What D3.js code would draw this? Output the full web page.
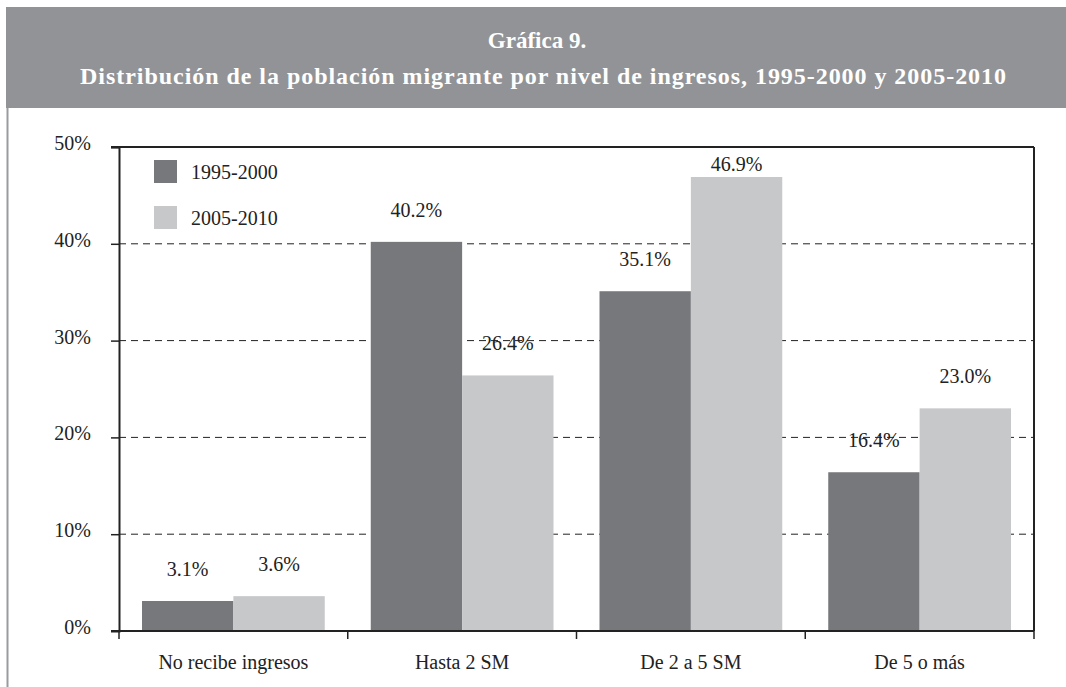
<!DOCTYPE html>
<html>
<head>
<meta charset="utf-8">
<script src="https://cdn.jsdelivr.net/npm/d3@7"></script>
<style>
    body { margin: 0; background: #fff; }
</style>
</head>
<body>
<svg id="chart" width="1066" height="687"></svg>
<script>
var categories = ["No recibe ingresos", "Hasta 2 SM", "De 2 a 5 SM", "De 5 o más"];
var seriesNames = ["1995-2000", "2005-2010"];
var values1995 = [3.1, 40.2, 35.1, 16.4];
var values2005 = [3.6, 26.4, 46.9, 23.0];
var yTicks = [0, 10, 20, 30, 40, 50];

var colors = ["#77787b", "#c7c8ca"];
var FONT = "'Liberation Serif', 'DejaVu Serif', 'Times New Roman', serif";

var svg = d3.select("#chart").attr("font-family", FONT),
    margin = {top: 147, right: 32, bottom: 56, left: 119},
    width = 1066 - margin.left - margin.right,
    height = 687 - margin.top - margin.bottom;

// banner
svg.append("rect")
    .attr("x", 6).attr("y", 7)
    .attr("width", 1060).attr("height", 101)
    .attr("fill", "#929396");
svg.append("line")
    .attr("x1", 7.5).attr("x2", 7.5)
    .attr("y1", 108).attr("y2", 687)
    .attr("stroke", "#9a9b9e").attr("stroke-width", 2);

svg.append("text")
    .attr("x", 537).attr("y", 48)
    .attr("text-anchor", "middle")
    .attr("fill", "#fff").attr("font-weight", "bold")
    .attr("font-size", 23)
    .text("Gráfica 9.");
svg.append("text")
    .attr("x", 543).attr("y", 84)
    .attr("text-anchor", "middle")
    .attr("fill", "#fff").attr("font-weight", "bold")
    .attr("font-size", 24)
    .attr("textLength", 926).attr("lengthAdjust", "spacing")
    .text("Distribución de la población migrante por nivel de ingresos, 1995-2000 y 2005-2010");

var g = svg.append("g").attr("transform", "translate(" + margin.left + "," + margin.top + ")");

var x0 = d3.scaleBand().domain(categories).range([0, width]).paddingInner(0).paddingOuter(0);
var x1 = d3.scaleBand().domain(seriesNames).range([23, x0.bandwidth() - 23]);
var y = d3.scaleLinear().domain([0, 50]).range([height, 0]);

// dashed grid
g.selectAll(".grid")
    .data(yTicks.filter(function (d) { return d > 0 && d < 50; }))
    .enter().append("line")
    .attr("x1", 0).attr("x2", width)
    .attr("y1", function (d) { return y(d); })
    .attr("y2", function (d) { return y(d); })
    .attr("stroke", "#222").attr("stroke-width", 1)
    .attr("stroke-dasharray", "7,5");

var data = categories.map(function (c, i) {
    return {cat: c, vals: [values1995[i], values2005[i]]};
});

var groups = g.selectAll(".grp")
    .data(data)
    .enter().append("g")
    .attr("transform", function (d) { return "translate(" + x0(d.cat) + ",0)"; });

groups.selectAll("rect")
    .data(function (d) { return d.vals.map(function (v, j) { return {s: seriesNames[j], v: v, j: j}; }); })
    .enter().append("rect")
    .attr("x", function (d) { return x1(d.s); })
    .attr("width", x1.bandwidth())
    .attr("y", function (d) { return y(d.v); })
    .attr("height", function (d) { return height - y(d.v); })
    .attr("fill", function (d) { return colors[d.j]; });

// value labels; a label that would hit the top frame sits just above its bar
groups.selectAll(".lbl")
    .data(function (d) { return d.vals.map(function (v, j) { return {s: seriesNames[j], v: v}; }); })
    .enter().append("text")
    .attr("x", function (d) { return x1(d.s) + x1.bandwidth() / 2; })
    .attr("y", function (d) {
        var yy = y(d.v) - 25;
        return yy < 20 ? y(d.v) - 6 : yy;
    })
    .attr("text-anchor", "middle")
    .attr("fill", "#222")
    .attr("font-size", 20)
    .text(function (d) { return d.v.toFixed(1) + "%"; });

// frame
g.append("line").attr("x1", -8).attr("x2", width).attr("y1", 0).attr("y2", 0)
    .attr("stroke", "#222").attr("stroke-width", 2);
g.append("line").attr("x1", width).attr("x2", width).attr("y1", 0).attr("y2", height)
    .attr("stroke", "#222").attr("stroke-width", 2);

// y axis
var yAxis = g.append("g")
    .call(d3.axisLeft(y).tickValues(yTicks).tickSize(8).tickPadding(20)
        .tickFormat(function (d) { return d + "%"; }));
yAxis.attr("font-family", FONT).attr("font-size", 20);
yAxis.select(".domain").attr("stroke", "#222").attr("stroke-width", 2);
yAxis.selectAll(".tick line").attr("stroke", "#222").attr("stroke-width", 1.5);
yAxis.selectAll("text").attr("fill", "#222").attr("dy", "0.12em");
yAxis.selectAll(".tick").filter(function (d) { return d === 0; }).select("line").remove();

// x axis with ticks at category boundaries
var xb = d3.scaleLinear().domain([0, categories.length]).range([0, width]);
g.append("line").attr("x1", -8).attr("x2", width).attr("y1", height).attr("y2", height)
    .attr("stroke", "#222").attr("stroke-width", 2);
g.selectAll(".xtick")
    .data(d3.range(categories.length + 1))
    .enter().append("line")
    .attr("x1", function (d) { return xb(d); })
    .attr("x2", function (d) { return xb(d); })
    .attr("y1", height).attr("y2", height + 8)
    .attr("stroke", "#222").attr("stroke-width", 1.5);
g.selectAll(".xlbl")
    .data(categories)
    .enter().append("text")
    .attr("x", function (d) { return x0(d) + x0.bandwidth() / 2; })
    .attr("y", height + 38)
    .attr("text-anchor", "middle")
    .attr("fill", "#222")
    .attr("font-size", 20)
    .text(function (d) { return d; });

// legend
var legend = svg.append("g").attr("transform", "translate(154,160)");
seriesNames.forEach(function (s, i) {
    legend.append("rect")
        .attr("x", 0).attr("y", i * 46)
        .attr("width", 23).attr("height", 23)
        .attr("fill", colors[i]);
    legend.append("text")
        .attr("x", 37).attr("y", i * 46 + 19)
        .attr("fill", "#222")
        .attr("font-size", 20)
        .text(s);
});
</script>
</body>
</html>
